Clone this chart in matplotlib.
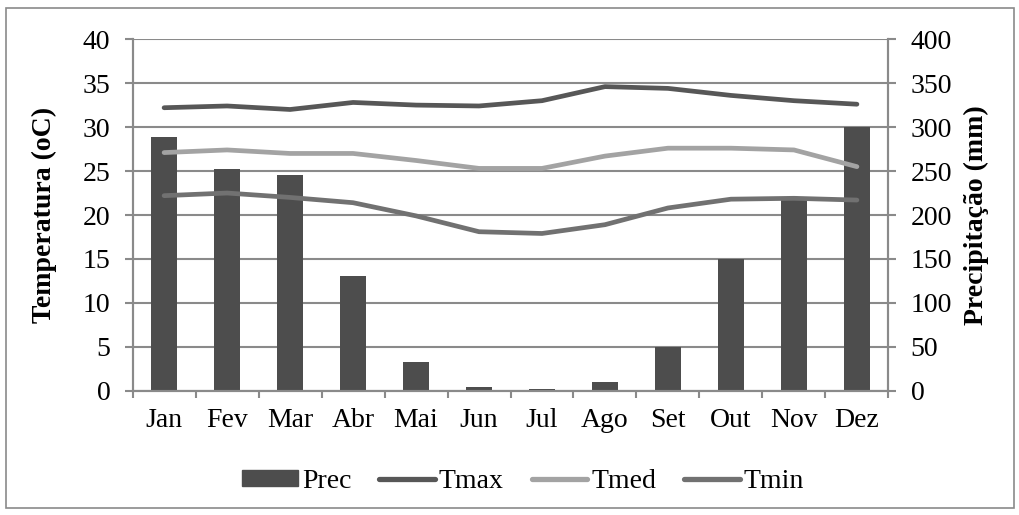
import matplotlib.pyplot as plt
import matplotlib.patches as mpatches
import numpy as np

plt.rcParams['font.family'] = ['Liberation Serif', 'DejaVu Serif']

# Dados
meses = ['Jan', 'Fev', 'Mar', 'Abr', 'Mai', 'Jun', 'Jul', 'Ago', 'Set', 'Out', 'Nov', 'Dez']
prec = [289, 252, 246, 131, 33, 4, 2.5, 10.5, 50, 150, 217, 300]
tmax = [32.2, 32.4, 32.0, 32.8, 32.5, 32.4, 33.0, 34.6, 34.4, 33.6, 33.0, 32.6]
tmed = [27.1, 27.4, 27.0, 27.0, 26.2, 25.3, 25.3, 26.7, 27.6, 27.6, 27.4, 25.5]
tmin = [22.2, 22.5, 22.0, 21.4, 19.9, 18.1, 17.9, 18.9, 20.8, 21.8, 21.9, 21.7]

cor_grade = '#8a8a8a'
fs = 20
x = np.arange(len(meses))

fig = plt.figure(figsize=(10.2, 5.15), dpi=100)
fig.patches.append(mpatches.Rectangle((0.006, 0.014), 0.988, 0.97, transform=fig.transFigure,
                                      fill=False, edgecolor='#8a8a8a', lw=1.2))

ax = fig.add_axes([0.130, 0.241, 0.741, 0.683])
ax2 = ax.twinx()

# precipitacao no eixo da direita, temperatura por cima
ax.set_zorder(2)
ax.patch.set_visible(False)
ax2.bar(x, prec, width=0.41, color='#4d4d4d', zorder=2)

ax.plot(x, tmax, color='#575757', lw=3.4, solid_capstyle='round', zorder=3)
ax.plot(x, tmed, color='#a3a3a3', lw=3.4, solid_capstyle='round', zorder=3)
ax.plot(x, tmin, color='#717171', lw=3.4, solid_capstyle='round', zorder=3)

ax.set_xlim(-0.5, 11.5)
ax.set_ylim(0, 40)
ax.set_yticks(np.arange(0, 41, 5))
ax2.set_ylim(0, 400)
ax2.set_yticks(np.arange(0, 401, 50))

ax2.grid(axis='y', color=cor_grade, lw=1.5, zorder=0)
ax2.set_axisbelow(True)

ax.set_xticks(x)
ax.set_xticklabels(meses)
ax.set_xticks(np.arange(-0.5, 12, 1), minor=True)
ax.tick_params(axis='x', which='major', length=0, labelsize=fs, pad=12)
ax.tick_params(axis='x', which='minor', length=5, width=1.5, color=cor_grade)
ax.tick_params(axis='y', length=6, width=1.5, color=cor_grade, labelsize=fs, pad=10)
ax2.tick_params(axis='y', length=6, width=1.5, color=cor_grade, labelsize=fs, pad=10)

for a in (ax, ax2):
    a.spines['top'].set_visible(False)
    for s in ('left', 'right', 'bottom'):
        a.spines[s].set_color(cor_grade)
        a.spines[s].set_linewidth(1.5)

ax.set_ylabel('Temperatura (oC)', fontsize=fs, fontweight='bold')
ax2.set_ylabel('Precipitação (mm)', fontsize=fs, fontweight='bold')
ax.yaxis.set_label_coords(-0.100, 0.5)
ax2.yaxis.set_label_coords(1.100, 0.5)

handles = [mpatches.Patch(color='#4d4d4d'),
           plt.Line2D([], [], color='#575757', lw=3.8, solid_capstyle='round'),
           plt.Line2D([], [], color='#a3a3a3', lw=3.8, solid_capstyle='round'),
           plt.Line2D([], [], color='#717171', lw=3.8, solid_capstyle='round')]
fig.legend(handles, ['Prec', 'Tmax', 'Tmed', 'Tmin'], loc='center', bbox_to_anchor=(0.513, 0.066),
           ncol=4, frameon=False, fontsize=fs, handlelength=2.0, handleheight=0.5,
           handletextpad=0.15, columnspacing=1.0)

fig.savefig('out.png', dpi=100)
